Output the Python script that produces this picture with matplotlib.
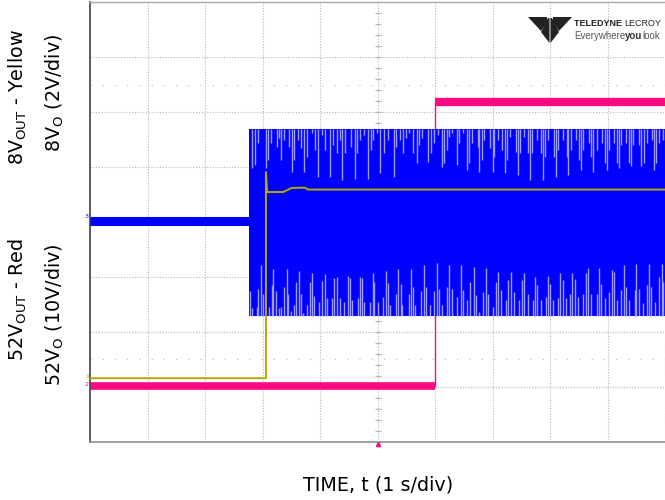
import numpy as np
import matplotlib
matplotlib.use("Agg")
import matplotlib.pyplot as plt
from matplotlib.patches import Polygon

# screen values, in divisions (x: 1 s/div, y: divisions from centre)
blue_pre_t = [0.0, 2.77]
blue_pre_v = [0.02, 0.02]
blue_start = 2.77
blue_top = 1.69
blue_bottom = -1.71

yellow_t = [0.0, 3.06, 3.06, 3.08, 3.36, 3.51, 3.74, 3.79, 10.0]
yellow_v = [-2.84, -2.84, 0.91, 0.545, 0.545, 0.62, 0.624, 0.59, 0.59]

pink_step = 6.0
pink_low = -2.99
pink_high = 2.18

# light gaps hanging from the top of the switching block (time, depth in div)
top_spike_t = [2.82, 2.87, 2.93, 3.06, 3.09, 3.15, 3.25, 3.28, 3.32, 3.37, 3.46, 3.51, 3.55,
               3.61, 3.67, 3.73, 3.77, 3.86, 3.91, 3.96, 4.03, 4.08, 4.17, 4.23, 4.29, 4.34,
               4.39, 4.43, 4.54, 4.60, 4.64, 4.70, 4.77, 4.83, 4.89, 4.93, 4.99, 5.04, 5.12,
               5.19, 5.28, 5.32, 5.39, 5.45, 5.50, 5.55, 5.61, 5.68, 5.72, 5.77, 5.88, 5.93,
               5.99, 6.06, 6.12, 6.16, 6.20, 6.24, 6.30, 6.38, 6.41, 6.48, 6.55, 6.59, 6.64,
               6.74, 6.77, 6.81, 6.86, 6.96, 7.00, 7.03, 7.09, 7.16, 7.22, 7.25, 7.30, 7.40,
               7.44, 7.48, 7.54, 7.62, 7.66, 7.69, 7.77, 7.84, 7.88, 7.92, 7.97, 8.07, 8.10,
               8.14, 8.23, 8.29, 8.32, 8.37, 8.45, 8.50, 8.54, 8.58, 8.68, 8.72, 8.75, 8.81,
               8.90, 8.95, 8.99, 9.03, 9.12, 9.16, 9.20, 9.24, 9.33, 9.37, 9.41, 9.45, 9.55,
               9.59, 9.64, 9.68, 9.77, 9.81, 9.85, 9.90, 9.97]
top_spike_d = [0.71, 0.65, 0.26, 0.71, 0.56, 0.26, 0.32, 0.17, 0.56, 0.20, 0.32, 0.78, 0.56,
               0.20, 0.35, 0.78, 0.50, 0.08, 0.38, 0.87, 0.11, 0.38, 0.87, 0.29, 0.44, 0.20,
               0.93, 0.44, 0.32, 0.90, 0.44, 0.20, 0.11, 0.90, 0.38, 0.20, 0.08, 0.80, 0.44,
               0.20, 0.87, 0.32, 0.20, 0.44, 0.17, 0.08, 0.44, 0.62, 0.29, 0.17, 0.60, 0.44,
               0.26, 0.11, 0.69, 0.62, 0.38, 0.14, 0.08, 0.65, 0.26, 0.08, 0.75, 0.62, 0.26,
               0.32, 0.78, 0.56, 0.20, 0.35, 0.78, 0.50, 0.20, 0.38, 0.80, 0.56, 0.14, 0.41,
               0.84, 0.44, 0.14, 0.44, 0.93, 0.44, 0.20, 0.44, 0.93, 0.50, 0.20, 0.50, 0.87,
               0.38, 0.20, 0.50, 0.84, 0.38, 0.20, 0.56, 0.75, 0.38, 0.26, 0.50, 0.78, 0.38,
               0.26, 0.62, 0.75, 0.38, 0.26, 0.62, 0.71, 0.29, 0.26, 0.62, 0.68, 0.29, 0.29,
               0.68, 0.62, 0.26, 0.20, 0.75, 0.62, 0.26, 0.20]

# light gaps rising from the bottom of the block (time, height in div)
bot_spike_t = [2.78, 2.82, 2.90, 2.93, 2.97, 3.01, 3.11, 3.16, 3.19, 3.24, 3.28, 3.33, 3.38,
               3.42, 3.45, 3.50, 3.55, 3.59, 3.64, 3.67, 3.71, 3.77, 3.82, 3.86, 3.90, 3.98,
               4.04, 4.08, 4.12, 4.20, 4.25, 4.29, 4.34, 4.42, 4.48, 4.52, 4.56, 4.66, 4.70,
               4.73, 4.77, 4.87, 4.92, 4.94, 5.00, 5.10, 5.14, 5.18, 5.22, 5.32, 5.36, 5.40,
               5.43, 5.54, 5.58, 5.62, 5.66, 5.76, 5.80, 5.84, 5.91, 5.99, 6.03, 6.07, 6.12,
               6.20, 6.24, 6.29, 6.38, 6.45, 6.49, 6.55, 6.60, 6.67, 6.71, 6.77, 6.83, 6.88,
               6.93, 7.00, 7.06, 7.10, 7.14, 7.23, 7.27, 7.32, 7.38, 7.46, 7.51, 7.55, 7.61,
               7.70, 7.74, 7.78, 7.84, 7.93, 7.96, 8.00, 8.05, 8.14, 8.18, 8.22, 8.27, 8.34,
               8.39, 8.43, 8.49, 8.57, 8.62, 8.66, 8.72, 8.81, 8.85, 8.89, 8.95, 9.03, 9.07,
               9.11, 9.17, 9.24, 9.28, 9.33, 9.38, 9.47, 9.50, 9.55, 9.62, 9.68, 9.72, 9.76,
               9.83, 9.90, 9.95, 9.97]
bot_spike_h = [0.45, 0.14, 0.16, 0.50, 0.93, 0.41, 0.16, 0.56, 0.85, 0.45, 0.14, 0.16, 0.53,
               0.85, 0.40, 0.10, 0.20, 0.62, 0.82, 0.40, 0.05, 0.20, 0.62, 0.78, 0.36, 0.26,
               0.64, 0.76, 0.33, 0.33, 0.70, 0.71, 0.33, 0.26, 0.73, 0.69, 0.29, 0.33, 0.71,
               0.69, 0.26, 0.26, 0.78, 0.62, 0.26, 0.35, 0.82, 0.61, 0.20, 0.40, 0.86, 0.58,
               0.20, 0.41, 0.86, 0.53, 0.20, 0.45, 0.93, 0.53, 0.20, 0.45, 0.96, 0.50, 0.20,
               0.53, 0.93, 0.50, 0.35, 0.93, 0.47, 0.29, 0.62, 0.90, 0.38, 0.08, 0.44, 0.87,
               0.41, 0.17, 0.62, 0.81, 0.47, 0.29, 0.65, 0.81, 0.44, 0.29, 0.65, 0.78, 0.41,
               0.29, 0.71, 0.56, 0.29, 0.35, 0.73, 0.59, 0.29, 0.32, 0.78, 0.65, 0.32, 0.41,
               0.78, 0.68, 0.35, 0.41, 0.78, 0.87, 0.41, 0.41, 0.87, 0.59, 0.32, 0.44, 0.84,
               0.81, 0.29, 0.47, 0.93, 0.53, 0.29, 0.47, 0.95, 0.50, 0.23, 0.56, 0.95, 0.53,
               0.26, 0.71, 0.95, 0.62]

BLUE = "#0000ff"
YELLOW = "#b3ab00"
PINK = "#ff0a82"
GRID = "#b4b4b4"

W, H = 665, 500
fig = plt.figure(figsize=(W / 100, H / 100), dpi=100)
ax = fig.add_axes([90 / W, 1 - 442 / H, 575 / W, 440 / H])
ax.set_xlim(0, 10)
ax.set_ylim(-4, 4)

# graticule
ax.set_xticks(range(11))
ax.set_yticks(range(-4, 5))
ax.tick_params(length=0, labelbottom=False, labelleft=False)
ax.grid(True, color=GRID, linestyle=(0, (1, 1.5)), linewidth=0.8)
for v in (2.49, -2.49):
    ax.axhline(v, color=GRID, linestyle=(0, (1, 10)), linewidth=0.8, zorder=0.5)
minor = np.arange(0, 10.01, 0.2)
ax.plot(minor, np.zeros_like(minor), "|", color=GRID, ms=5, mew=0.8, zorder=0.6)
minor_v = np.arange(-4, 4.01, 0.2)
ax.plot(np.full_like(minor_v, 5), minor_v, "_", color=GRID, ms=5, mew=0.8, zorder=0.6)

ax.spines["right"].set_visible(False)
ax.spines["left"].set_color("#444444")
ax.spines["left"].set_linestyle((0, (5, 1)))
ax.spines["left"].set_linewidth(1.2)
ax.spines["bottom"].set_color("#909090")
ax.spines["bottom"].set_linewidth(1.2)
ax.spines["top"].set_color("#a8a8a8")
ax.spines["top"].set_linewidth(1.0)

# pink 52V trace
ax.plot([0, pink_step], [pink_low, pink_low], color=PINK, lw=5.5, solid_capstyle="butt", zorder=2)
ax.plot([pink_step, 10], [pink_high, pink_high], color=PINK, lw=6, solid_capstyle="butt", zorder=2)
ax.plot([pink_step, pink_step], [pink_low, pink_high], color=PINK, lw=1.0, zorder=2)

# blue switching node
ax.plot(blue_pre_t, blue_pre_v, color=BLUE, lw=6.5, solid_capstyle="butt", zorder=3)
ax.fill_between([blue_start, 10], blue_bottom, blue_top, color=BLUE, lw=0, zorder=3)
ax.vlines(top_spike_t, blue_top - np.array(top_spike_d), blue_top, color="#9d9dff", lw=1.0, zorder=3.5)
ax.vlines(bot_spike_t, blue_bottom, blue_bottom + np.array(bot_spike_h), color="#9d9dff", lw=1.0, zorder=3.5)

# yellow 8V trace
ax.plot(yellow_t, yellow_v, color=YELLOW, lw=1.4, zorder=4)

# channel markers and trigger marker
ax.text(-0.02, 0.1, "3", color=BLUE, fontsize=4.5, ha="right", va="center", clip_on=False)
ax.text(-0.02, -2.8, "1", color=YELLOW, fontsize=4.5, ha="right", va="center", clip_on=False)
ax.text(-0.02, -2.96, "2", color=PINK, fontsize=4.5, ha="right", va="center", clip_on=False)
ax.plot([5], [-4.04], marker="^", color=PINK, ms=3, clip_on=False, zorder=5)

# axis labels
font = ["DejaVu Sans"]
fs = 13.8
fig.text(18 / W, 1 - 97 / H, r"8V$_{\mathregular{OUT}}$ - Yellow", rotation=90, ha="center", va="center",
         fontsize=fs, family=font)
fig.text(55 / W, 1 - 93 / H, r"8V$_{\mathregular{O}}$ (2V/div)", rotation=90, ha="center", va="center",
         fontsize=fs, family=font)
fig.text(18 / W, 1 - 300 / H, r"52V$_{\mathregular{OUT}}$ - Red", rotation=90, ha="center", va="center",
         fontsize=fs, family=font)
fig.text(55 / W, 1 - 315 / H, r"52V$_{\mathregular{O}}$ (10V/div)", rotation=90, ha="center", va="center",
         fontsize=fs, family=font)
fig.text(378 / W, 1 - 485 / H, "TIME, t (1 s/div)", ha="center", va="center", fontsize=fs, family=font)


# logo
def px(x, y):
    return (x / W, 1 - y / H)


logo = [
    [px(528, 17), px(547, 17), px(547, 22), px(541, 31)],
    [px(572, 17), px(553, 17), px(553, 22), px(559, 31)],
    [px(548, 18), px(549.5, 18), px(549.5, 43), px(541, 32)],
    [px(552, 18), px(550.5, 18), px(550.5, 43), px(559, 32)],
]
for pts in logo:
    fig.patches.append(Polygon(pts, closed=True, color="#222222", transform=fig.transFigure, lw=0))

renderer = fig.canvas.get_renderer()


def text_row(x, y, pieces, size):
    # put pieces one after another, measuring each one
    for s, weight, col in pieces:
        t = fig.text(x / W, 1 - y / H, s, fontsize=size, fontweight=weight, color=col,
                     family=["Liberation Sans"], va="center")
        x += t.get_window_extent(renderer).width


text_row(574, 23, [("TELEDYNE ", "bold", "#222222"), ("LECROY", "normal", "#222222")], 6.5)
text_row(574, 36, [("Everywhere", "normal", "#555555"), ("you", "bold", "#333333"),
                   ("look", "normal", "#555555")], 7.0)

fig.savefig("out.png", dpi=100)
